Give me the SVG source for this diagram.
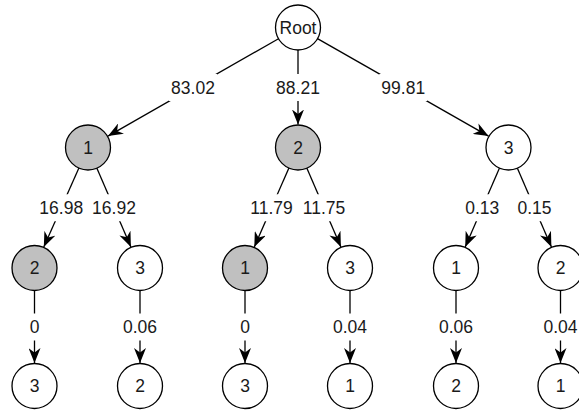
<svg xmlns="http://www.w3.org/2000/svg" width="579" height="414" viewBox="0 0 579 414">
<style>
.e{stroke:#000;stroke-width:1.3;fill:none;marker-end:url(#arr)}
.lb{fill:#fff;stroke:none}
.t{font-family:"Liberation Sans",Arial,sans-serif;font-size:17.5px;fill:#1a1a1a;text-anchor:middle}
.n{stroke:#000;stroke-width:1.3;fill:#fff}
.g{fill:#c0c0c0}
</style>
<defs>
<marker id="arr" markerUnits="userSpaceOnUse" viewBox="0 0 15 12" markerWidth="15" markerHeight="12" refX="15" refY="6" orient="auto">
<path d="M0,0 L15,6 L0,12 L4.5,6 z" fill="#000"/>
</marker>
</defs>
<rect width="579" height="414" fill="#fff"/>
<g id="connectors">
<g id="e-root-a1"><line class="e" x1="278.5" y1="38.7" x2="108" y2="136.1"/><rect class="lb" x="169" y="74" width="48" height="27"/><text class="t" x="193" y="93.8">83.02</text></g>
<g id="e-root-a2"><line class="e" x1="298" y1="50" x2="298" y2="124.5"/><rect class="lb" x="274" y="74" width="48" height="27"/><text class="t" x="298" y="93.8">88.21</text></g>
<g id="e-root-a3"><line class="e" x1="317.5" y1="38.6" x2="488.5" y2="136.1"/><rect class="lb" x="379.25" y="74" width="48" height="27"/><text class="t" x="403.25" y="93.8">99.81</text></g>
<g id="e-a1-b1"><line class="e" x1="78.9" y1="168.1" x2="43.8" y2="247"/><rect class="lb" x="37.25" y="194.25" width="48" height="27"/><text class="t" x="61.25" y="214">16.98</text></g>
<g id="e-a1-b2"><line class="e" x1="96.9" y1="168.2" x2="130.9" y2="246.9"/><rect class="lb" x="90" y="194.25" width="48" height="27"/><text class="t" x="114" y="214">16.92</text></g>
<g id="e-a2-b3"><line class="e" x1="288.9" y1="168.1" x2="254.3" y2="247"/><rect class="lb" x="248.5" y="194.25" width="46" height="27"/><text class="t" x="271.5" y="214">11.79</text></g>
<g id="e-a2-b4"><line class="e" x1="306.9" y1="168.2" x2="340.9" y2="246.9"/><rect class="lb" x="301" y="194.25" width="46" height="27"/><text class="t" x="324" y="214">11.75</text></g>
<g id="e-a3-b5"><line class="e" x1="499.5" y1="168.1" x2="465.2" y2="246.9"/><rect class="lb" x="463.25" y="194.25" width="38" height="27"/><text class="t" x="482.25" y="214">0.13</text></g>
<g id="e-a3-b6"><line class="e" x1="517.4" y1="168.2" x2="551.4" y2="246.9"/><rect class="lb" x="515.5" y="194.25" width="38" height="27"/><text class="t" x="534.5" y="214">0.15</text></g>
<g id="e-b1-c1"><line class="e" x1="34.5" y1="290.5" x2="34.5" y2="363"/><rect class="lb" x="27.5" y="313.5" width="14" height="27"/><text class="t" x="34.5" y="333.3">0</text></g>
<g id="e-b2-c2"><line class="e" x1="140" y1="290.5" x2="140" y2="363"/><rect class="lb" x="121" y="313.5" width="38" height="27"/><text class="t" x="140" y="333.3">0.06</text></g>
<g id="e-b3-c3"><line class="e" x1="245" y1="290.5" x2="245" y2="363"/><rect class="lb" x="238" y="313.5" width="14" height="27"/><text class="t" x="245" y="333.3">0</text></g>
<g id="e-b4-c4"><line class="e" x1="350" y1="290.5" x2="350" y2="363"/><rect class="lb" x="331" y="313.5" width="38" height="27"/><text class="t" x="350" y="333.3">0.04</text></g>
<g id="e-b5-c5"><line class="e" x1="456" y1="290.5" x2="456" y2="363"/><rect class="lb" x="437" y="313.5" width="38" height="27"/><text class="t" x="456" y="333.3">0.06</text></g>
<g id="e-b6-c6"><line class="e" x1="560.5" y1="290.5" x2="560.5" y2="363"/><rect class="lb" x="541.5" y="313.5" width="38" height="27"/><text class="t" x="560.5" y="333.3">0.04</text></g>
</g>
<g id="root"><circle class="n" cx="298" cy="27.5" r="22.5"/><text class="t" x="298" y="33.8">Root</text></g>
<g id="a1"><circle class="n g" cx="88" cy="147.5" r="22.5"/><text class="t" x="88" y="153.8">1</text></g>
<g id="a2"><circle class="n g" cx="298" cy="147.5" r="22.5"/><text class="t" x="298" y="153.8">2</text></g>
<g id="a3"><circle class="n" cx="508.5" cy="147.5" r="22.5"/><text class="t" x="508.5" y="153.8">3</text></g>
<g id="b1"><circle class="n g" cx="34.5" cy="268" r="22.5"/><text class="t" x="34.5" y="274.3">2</text></g>
<g id="b2"><circle class="n" cx="140" cy="268" r="22.5"/><text class="t" x="140" y="274.3">3</text></g>
<g id="b3"><circle class="n g" cx="245" cy="268" r="22.5"/><text class="t" x="245" y="274.3">1</text></g>
<g id="b4"><circle class="n" cx="350" cy="268" r="22.5"/><text class="t" x="350" y="274.3">3</text></g>
<g id="b5"><circle class="n" cx="456" cy="268" r="22.5"/><text class="t" x="456" y="274.3">1</text></g>
<g id="b6"><circle class="n" cx="560.5" cy="268" r="22.5"/><text class="t" x="560.5" y="274.3">2</text></g>
<g id="c1"><circle class="n" cx="34.5" cy="386" r="22.5"/><text class="t" x="34.5" y="392.3">3</text></g>
<g id="c2"><circle class="n" cx="140" cy="386" r="22.5"/><text class="t" x="140" y="392.3">2</text></g>
<g id="c3"><circle class="n" cx="245" cy="386" r="22.5"/><text class="t" x="245" y="392.3">3</text></g>
<g id="c4"><circle class="n" cx="350" cy="386" r="22.5"/><text class="t" x="350" y="392.3">1</text></g>
<g id="c5"><circle class="n" cx="456" cy="386" r="22.5"/><text class="t" x="456" y="392.3">2</text></g>
<g id="c6"><circle class="n" cx="560.5" cy="386" r="22.5"/><text class="t" x="560.5" y="392.3">1</text></g>
</svg>
